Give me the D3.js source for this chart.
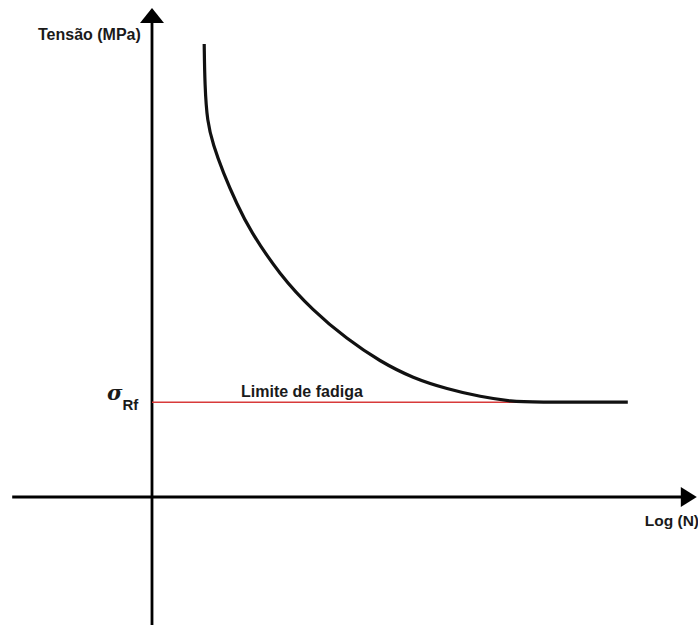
<!DOCTYPE html>
<html>
<head>
<meta charset="utf-8">
<script src="https://cdn.jsdelivr.net/npm/d3@7"></script>
<style>
  html, body { margin: 0; padding: 0; background: #fff; }
  svg { display: block; }
  text { font-family: "Liberation Sans", Arial, sans-serif; fill: #1a1a1a; }
</style>
</head>
<body>
<svg id="chart" width="698" height="625"></svg>
<script>
// S-N (Wöhler) curve: stress vs log of number of cycles, in schematic units
const logN   = [0.87, 0.88, 0.92, 1.02, 1.18, 1.42, 1.63, 2.13, 2.68, 3.25, 3.80, 4.35, 4.92, 5.47, 6.02, 6.30, 7.93];
const stress = [7.55, 6.87, 6.25, 5.87, 5.42, 4.87, 4.45, 3.70, 3.11, 2.63, 2.26, 1.98, 1.80, 1.67, 1.59, 1.58, 1.58];

// Fatigue limit (endurance limit) and where the curve reaches it
const fatigueLimit = 1.58;
const fatigueLimitEnd = 6.30;

// Axis extents (schematic units)
const xAxisExtent = [-2.33, 9.08];
const yAxisExtent = [-2.2, 8.15];

const axisLabelY = "Tensão (MPa)";
const axisLabelX = "Log (N)";
const limitLabel = "Limite de fadiga";

const svg = d3.select("#chart");

const x = d3.scaleLinear().domain([0, 9]).range([152, 692]);
const y = d3.scaleLinear().domain([0, 8]).range([497, 17]);

// Axes through the origin
const axes = svg.append("g").attr("stroke", "#000").attr("stroke-width", 2.8);
axes.append("line")
  .attr("x1", x(xAxisExtent[0])).attr("x2", x(xAxisExtent[1]) - 12)
  .attr("y1", y(0)).attr("y2", y(0));
axes.append("line")
  .attr("x1", x(0)).attr("x2", x(0))
  .attr("y1", y(yAxisExtent[0])).attr("y2", y(yAxisExtent[1]) + 12);

// Arrow heads
const xt = [x(xAxisExtent[1]), y(0)];
svg.append("path")
  .attr("d", `M${xt[0]},${xt[1]} L${xt[0] - 16},${xt[1] - 10} L${xt[0] - 16},${xt[1] + 10} Z`)
  .attr("fill", "#000");
const yt = [x(0), y(yAxisExtent[1])];
svg.append("path")
  .attr("d", `M${yt[0]},${yt[1]} L${yt[0] - 12},${yt[1] + 15} L${yt[0] + 12},${yt[1] + 15} Z`)
  .attr("fill", "#000");

// Fatigue limit line
svg.append("line")
  .attr("x1", x(0)).attr("x2", x(fatigueLimitEnd))
  .attr("y1", y(fatigueLimit)).attr("y2", y(fatigueLimit))
  .attr("stroke", "#d83a3a").attr("stroke-width", 1.4);

// S-N curve
const pts = logN.map((v, i) => [v, stress[i]]);
svg.append("path")
  .datum(pts)
  .attr("d", d3.line().x(d => x(d[0])).y(d => y(d[1])).curve(d3.curveBasis))
  .attr("fill", "none")
  .attr("stroke", "#111")
  .attr("stroke-width", 3.2)
  .attr("stroke-linecap", "butt");

// Labels
svg.append("text")
  .attr("x", 38).attr("y", 40)
  .attr("font-size", 16).attr("font-weight", "bold")
  .text(axisLabelY);

svg.append("text")
  .attr("x", 699).attr("y", 526)
  .attr("text-anchor", "end")
  .attr("font-size", 15.5).attr("font-weight", "bold")
  .text(axisLabelX);

svg.append("text")
  .attr("x", 241).attr("y", y(fatigueLimit) - 5)
  .attr("font-size", 16).attr("font-weight", "bold")
  .text(limitLabel);

const sig = svg.append("text")
  .attr("x", 107).attr("y", y(fatigueLimit) - 2);
sig.append("tspan")
  .attr("font-family", "'DejaVu Serif', 'Liberation Serif', serif")
  .attr("font-style", "italic").attr("font-weight", "bold")
  .attr("font-size", 21)
  .text("σ");
sig.append("tspan")
  .attr("dy", 10)
  .attr("font-size", 15).attr("font-weight", "bold")
  .text("Rf");
</script>
</body>
</html>
